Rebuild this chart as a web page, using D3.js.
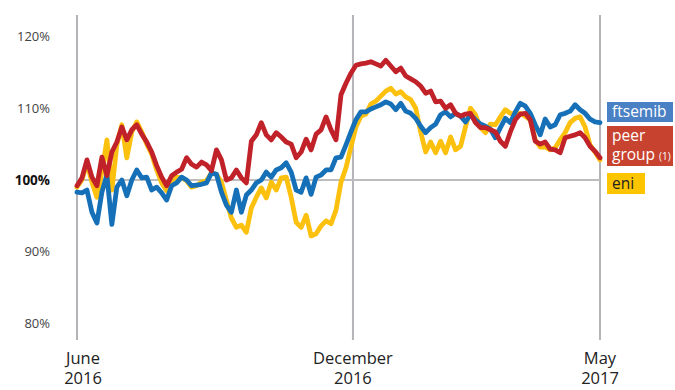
<!DOCTYPE html>
<html><head><meta charset="utf-8">
<script src="https://cdn.jsdelivr.net/npm/d3@7"></script>
<style>body{margin:0;background:#fff}svg{display:block}</style>
</head><body><svg id="c" width="675" height="390"></svg>
<script>
const ftsemib = [
 98.3, 98.2, 98.6, 95.5, 94.0, 98.3, 100.7, 93.8, 99.0, 100.0,
 97.8, 100.0, 101.4, 100.3, 100.4, 98.6, 99.0, 98.2, 97.2, 99.2,
 99.6, 100.4, 100.0, 99.2, 99.3, 99.4, 99.6, 101.0, 100.8, 98.3,
 96.5, 95.5, 98.6, 95.5, 97.9, 98.6, 99.6, 100.0, 101.1, 100.4,
 101.4, 101.7, 102.4, 101.1, 98.6, 98.3, 100.3, 98.0, 100.4, 100.7,
 101.4, 101.4, 103.1, 103.2, 104.9, 106.7, 108.4, 109.5, 109.5, 109.9,
 110.2, 110.5, 110.9, 110.6, 109.8, 110.7, 109.6, 109.3, 108.6, 107.5,
 106.6, 107.3, 107.8, 109.1, 109.5, 108.8, 109.3, 108.9, 108.1, 109.1,
 108.4, 107.8, 107.5, 107.1, 105.9, 107.3, 108.6, 108.0, 109.5, 110.7,
 110.3, 109.3, 107.7, 106.3, 108.5, 107.4, 107.7, 109.1, 109.3, 109.6,
 110.5, 109.8, 109.3, 108.5, 108.1, 108.0
];
const peerGroup = [
 99.2, 100.3, 102.8, 100.4, 99.2, 103.2, 100.6, 103.9, 105.3, 107.4,
 105.6, 107.0, 107.7, 106.4, 105.3, 103.9, 102.0, 100.4, 99.2, 100.6,
 101.1, 101.5, 103.1, 102.2, 101.8, 102.5, 102.1, 101.3, 104.2, 102.8,
 100.0, 100.3, 101.4, 100.3, 99.6, 105.4, 106.3, 108.0, 106.3, 105.6,
 106.6, 106.0, 105.3, 105.0, 103.1, 103.9, 105.7, 104.2, 106.4, 107.0,
 108.8, 107.0, 105.6, 111.9, 113.5, 114.9, 116.0, 116.2, 116.3, 116.5,
 116.2, 115.9, 116.7, 115.9, 115.1, 115.6, 114.5, 114.1, 113.7, 113.1,
 112.1, 112.4, 110.9, 111.0, 110.0, 110.5, 109.3, 108.9, 109.2, 109.3,
 108.0, 107.3, 107.3, 107.0, 106.7, 105.4, 104.7, 106.7, 108.4, 109.2,
 109.3, 108.4, 105.4, 105.0, 105.3, 104.3, 104.2, 103.8, 105.9, 106.1,
 106.3, 106.6, 105.9, 104.7, 104.0, 103.1
];
const eni = [
 99.0, 100.0, 102.4, 99.7, 97.6, 101.1, 105.6, 98.6, 104.9, 107.7,
 103.1, 106.7, 108.1, 106.7, 105.0, 103.6, 101.4, 99.6, 98.5, 99.9,
 100.4, 100.3, 99.9, 99.0, 99.2, 99.7, 99.9, 101.0, 100.8, 99.7,
 97.2, 94.7, 93.4, 93.7, 92.7, 96.1, 97.6, 98.9, 97.5, 99.7,
 98.6, 100.3, 100.4, 97.6, 94.1, 93.4, 95.1, 92.2, 92.5, 93.6,
 94.3, 93.9, 95.8, 99.7, 101.7, 104.6, 107.4, 108.9, 109.2, 110.6,
 111.0, 111.7, 112.4, 112.8, 112.0, 112.3, 111.6, 111.2, 110.0, 106.7,
 103.9, 105.3, 103.8, 105.4, 103.8, 106.0, 104.2, 104.7, 107.4, 110.0,
 109.1, 107.3, 106.6, 107.8, 107.7, 108.8, 109.8, 109.3, 109.2, 109.3,
 108.9, 108.4, 105.6, 104.6, 104.6, 104.2, 104.5, 105.6, 106.6, 108.0,
 108.6, 108.8, 107.4, 104.9, 103.9, 102.8
];
const yTicks = [80, 90, 100, 110, 120];
const xTickIndex = [0, 55.4, 105];
const xTickLabels = [["June", "2016"], ["December", "2016"], ["May", "2017"]];

const svg = d3.select("#c");
const x = d3.scaleLinear().domain([0, ftsemib.length - 1]).range([77, 600]);
const y = d3.scaleLinear().domain([80, 120]).range([323.4, 36.6]);
const FONT = "'Open Sans', sans-serif";

// vertical month lines
svg.append("g").selectAll("line").data(xTickIndex).join("line")
  .attr("x1", d => x(d)).attr("x2", d => x(d))
  .attr("y1", 15).attr("y2", 340)
  .attr("stroke", "#b4b4b8").attr("stroke-width", 2);

// 100% reference line
svg.append("line")
  .attr("x1", x(0)).attr("x2", x(ftsemib.length - 1))
  .attr("y1", y(100)).attr("y2", y(100))
  .attr("stroke", "#bdbdbd").attr("stroke-width", 2);

// y labels
svg.append("g").selectAll("text").data(yTicks).join("text")
  .attr("x", 50).attr("y", d => y(d)).attr("dy", "0.35em")
  .attr("text-anchor", "end")
  .attr("font-family", FONT)
  .attr("font-size", d => d === 100 ? 13.5 : 13)
  .attr("font-weight", d => d === 100 ? "bold" : "normal")
  .attr("fill", d => d === 100 ? "#111" : "#444")
  .text(d => d + "%");

// x labels (two separate lines)
const xpos = (d, i) => x(d) + (i === 0 ? 6 : 0);
[0, 1].forEach(row => {
  svg.append("g").selectAll("text").data(xTickIndex).join("text")
    .attr("x", xpos)
    .attr("y", row === 0 ? 364 : 384)
    .attr("text-anchor", "middle")
    .attr("font-family", FONT).attr("font-size", 16.5).attr("fill", "#222")
    .text((d, i) => xTickLabels[i][row]);
});

// lines
const line = d3.line().x((d, i) => x(i)).y(d => y(d)).curve(d3.curveLinear);
const series = [
  {vals: eni, color: "#fcc00e"},
  {vals: ftsemib, color: "#1570b8"},
  {vals: peerGroup, color: "#c12129"}
];
svg.append("g").selectAll("path").data(series).join("path")
  .attr("d", d => line(d.vals))
  .attr("fill", "none").attr("stroke", d => d.color)
  .attr("stroke-width", 4.8).attr("stroke-linejoin", "round").attr("stroke-linecap", "round");

// legend
const lg = svg.append("g").attr("font-family", FONT);
lg.append("rect").attr("x", 607).attr("y", 102).attr("width", 66).attr("height", 20).attr("fill", "#4a80c4");
lg.append("text").attr("x", 612).attr("y", 117).attr("font-size", 15.5).attr("fill", "#fff").text("ftsemib");
lg.append("rect").attr("x", 607).attr("y", 126).attr("width", 66).attr("height", 40).attr("fill", "#c8432f");
lg.append("text").attr("x", 612).attr("y", 141).attr("font-size", 15.5).attr("fill", "#fff").text("peer");
const g2 = lg.append("text").attr("x", 612).attr("y", 160).attr("font-size", 15.5).attr("fill", "#fff");
g2.append("tspan").text("group ");
g2.append("tspan").attr("font-size", 10).text("(1)");
lg.append("rect").attr("x", 607).attr("y", 173).attr("width", 38).attr("height", 21).attr("fill", "#fdc500");
lg.append("text").attr("x", 612).attr("y", 189).attr("font-size", 15.5).attr("fill", "#222").text("eni");
</script></body></html>
